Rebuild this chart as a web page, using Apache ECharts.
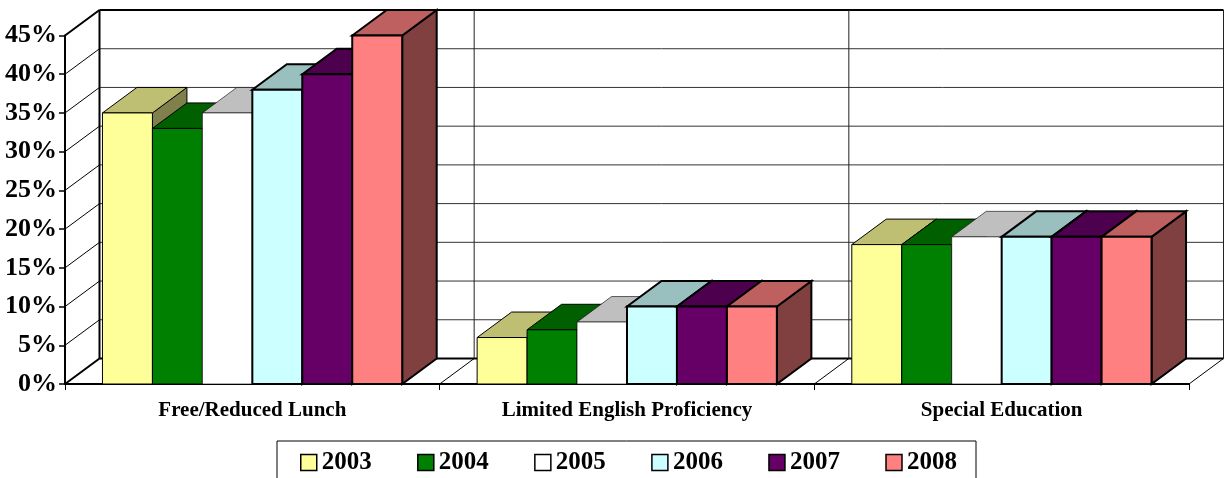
<!DOCTYPE html>
<html>
<head>
<meta charset="utf-8">
<style>html,body{margin:0;padding:0;background:#fff;overflow:hidden}#chart{width:1225px;height:478px}</style>
<script src="https://cdn.jsdelivr.net/npm/echarts@6/dist/echarts.min.js"></script>
</head>
<body>
<div id="chart"></div>
<script>
const categories = ['Free/Reduced Lunch', 'Limited English Proficiency', 'Special Education'];
const years = ['2003', '2004', '2005', '2006', '2007', '2008'];
const v2003 = [35, 6, 18];
const v2004 = [33, 7, 18];
const v2005 = [35, 8, 19];
const v2006 = [38, 10, 19];
const v2007 = [40, 10, 19];
const v2008 = [45, 10, 19];
const yTicks = [0, 5, 10, 15, 20, 25, 30, 35, 40, 45];

const allValues = [v2003, v2004, v2005, v2006, v2007, v2008];
const fronts = ['#FFFF99', '#008000', '#FFFFFF', '#CCFFFF', '#660066', '#FF8080'];
const tops = ['#BFBF73', '#006000', '#BFBFBF', '#99BFBF', '#4D004D', '#BF6060'];
const sides = ['#80804D', '#004000', '#808080', '#668080', '#330033', '#804040'];
const strokes = [1, 1, 0.6, 2, 2, 2];

const depthX = 34.5, depthY = 25.5;
const barShare = 0.8; // 6 bars fill 80% of the band

const chart = echarts.init(document.getElementById('chart'), null, { renderer: 'canvas' });

function line(x1, y1, x2, y2, width, color) {
  return {
    type: 'line',
    shape: { x1, y1, x2, y2 },
    style: { stroke: color || '#000', lineWidth: width, fill: null }
  };
}

function poly(points, fill, width) {
  return {
    type: 'polygon',
    shape: { points },
    style: { fill, stroke: '#000', lineWidth: width, lineJoin: 'miter' }
  };
}

// horizontal grid lines on the left and back walls
function renderTick(params, api) {
  const tick = api.value(1);
  const y = api.coord([0, tick])[1];
  const x = params.coordSys.x;
  const w = params.coordSys.width;
  const edge = tick === 0 || tick === 45;
  return {
    type: 'group',
    children: [
      line(x, y, x + depthX, y - depthY, edge ? 2 : 1),
      line(x + depthX, y - depthY, x + w + depthX, y - depthY, edge ? 2 : 1, edge ? '#000' : '#333')
    ]
  };
}

// vertical lines on the back wall and diagonals on the floor
function renderBand(params, api) {
  const band = api.size([1, 0])[0];
  const center = api.coord([api.value(0), 0]);
  const r = center[0] + band / 2;
  const y0 = center[1];
  const children = [
    line(r, y0, r + depthX, y0 - depthY, 1),
    line(r + depthX, y0 - depthY, r + depthX, params.coordSys.y - depthY, 1, '#222')
  ];
  if (api.value(0) === 0) {
    const l = center[0] - band / 2;
    children.push(line(l + depthX, y0 - depthY, l + depthX, params.coordSys.y - depthY, 2));
  }
  return { type: 'group', children };
}

function renderBar(yearIdx) {
  return function (params, api) {
    const band = api.size([1, 0])[0];
    const barW = band * barShare / years.length;
    const top = api.coord([api.value(0), api.value(1)]);
    const base = api.coord([api.value(0), 0]);
    const l = top[0] - band * barShare / 2 + yearIdx * barW;
    const r = l + barW;
    const width = strokes[yearIdx];
    return {
      type: 'group',
      children: [
        poly([[r, top[1]], [r + depthX, top[1] - depthY], [r + depthX, base[1] - depthY], [r, base[1]]], sides[yearIdx], width),
        poly([[l, top[1]], [l + depthX, top[1] - depthY], [r + depthX, top[1] - depthY], [r, top[1]]], tops[yearIdx], width),
        poly([[l, top[1]], [r, top[1]], [r, base[1]], [l, base[1]]], fronts[yearIdx], width)
      ]
    };
  };
}

const barSeries = years.map((name, i) => ({
  name,
  type: 'custom',
  renderItem: renderBar(i),
  encode: { x: 0, y: 1 },
  itemStyle: { color: fronts[i] },
  silent: true,
  z: 5,
  data: allValues[i].map((v, c) => [c, v])
}));

chart.setOption({
  animation: false,
  backgroundColor: '#fff',
  textStyle: { fontFamily: '"Liberation Serif", serif' },
  grid: { left: 65, right: 36, top: 35.5, bottom: 94 },
  legend: {
    data: years.map(name => ({ name, icon: 'rect' })),
    left: 277,
    top: 441,
    padding: [9, 19, 20, 23],
    itemWidth: 16,
    itemHeight: 16,
    itemGap: 45.3,
    itemStyle: { borderColor: '#000', borderWidth: 1.5 },
    borderColor: '#000',
    borderWidth: 1,
    backgroundColor: '#fff',
    selectedMode: false,
    textStyle: { fontFamily: '"Liberation Serif", serif', fontWeight: 'bold', fontSize: 25, color: '#000' }
  },
  xAxis: {
    type: 'category',
    data: categories,
    axisLine: { lineStyle: { color: '#000', width: 2 } },
    axisTick: { show: true, alignWithLabel: false, length: 6, lineStyle: { color: '#000', width: 1 } },
    axisLabel: { color: '#000', fontFamily: '"Liberation Serif", serif', fontWeight: 'bold', fontSize: 21, margin: 16 }
  },
  yAxis: {
    type: 'value',
    min: 0,
    max: 45,
    interval: 5,
    axisLine: { show: true, lineStyle: { color: '#000', width: 2 } },
    axisTick: { show: true, length: 6, lineStyle: { color: '#000', width: 1.5 } },
    axisLabel: { color: '#000', fontFamily: '"Liberation Serif", serif', fontWeight: 'bold', fontSize: 26, margin: 8, padding: [8, 0, 0, 0], formatter: '{value}%' },
    splitLine: { show: false }
  },
  series: [
    {
      name: 'ticks',
      type: 'custom',
      renderItem: renderTick,
      encode: { x: 0, y: 1 },
      silent: true,
      z: 1,
      data: yTicks.map(t => [0, t])
    },
    {
      name: 'bands',
      type: 'custom',
      renderItem: renderBand,
      encode: { x: 0, y: -1 },
      silent: true,
      z: 1,
      data: categories.map((c, i) => [i, 0])
    }
  ].concat(barSeries)
});
</script>
</body>
</html>
